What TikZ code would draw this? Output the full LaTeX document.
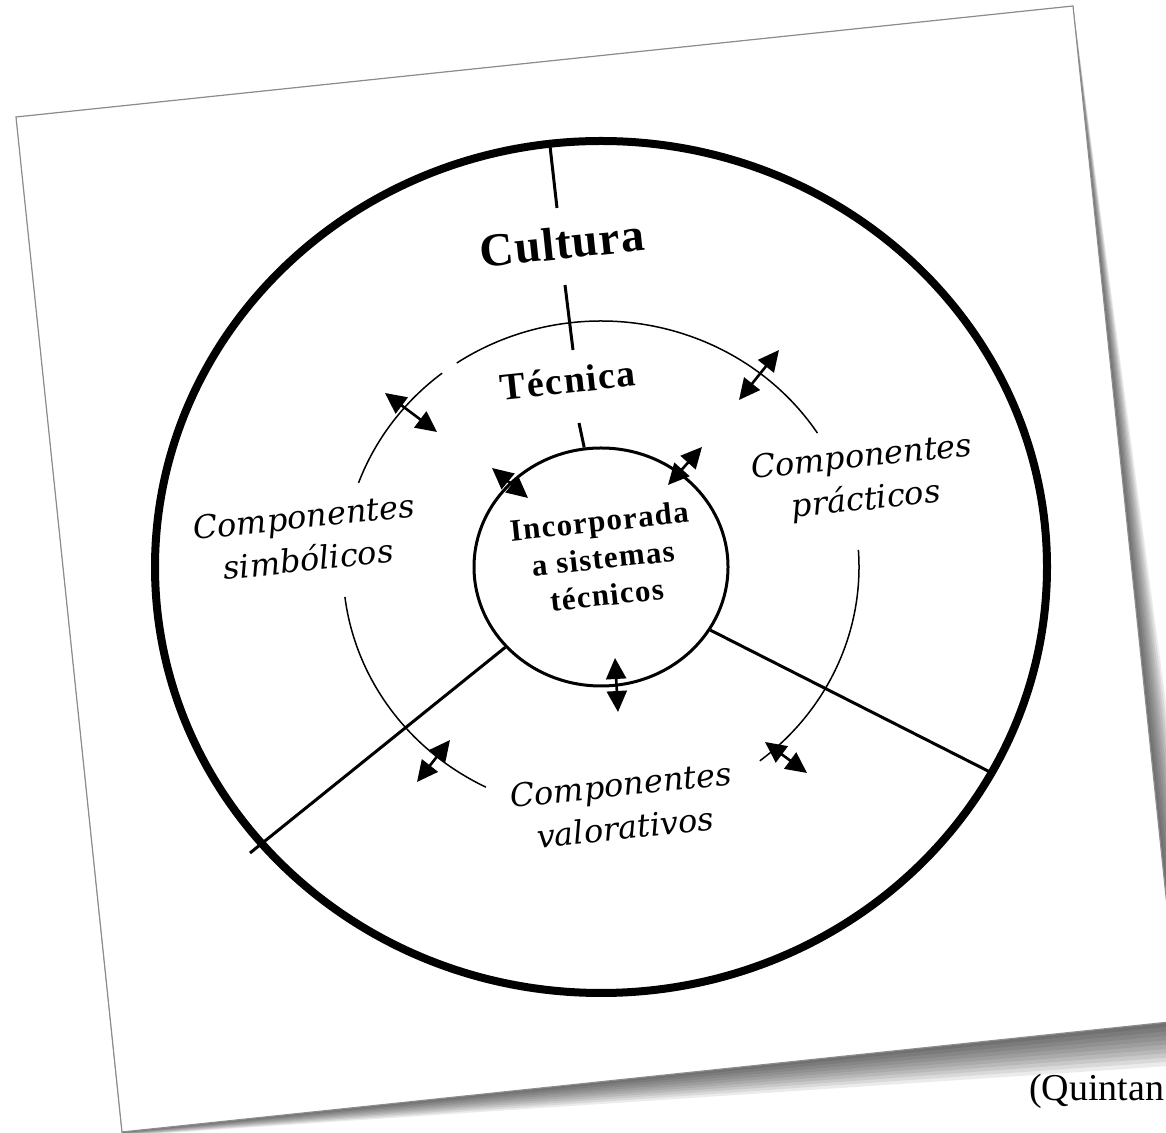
\documentclass[tikz,border=0pt]{standalone}
\usepackage{fontspec}
\setmainfont{Liberation Serif}
\newfontfamily\compfont{DejaVu Serif}
\usetikzlibrary{arrows.meta}
\usetikzlibrary{calc}
\usetikzlibrary{shapes.geometric}

\begin{document}
\begin{tikzpicture}[x=1pt,y=1pt,
  rim/.style={line width=8pt},
  hoop/.style={line width=1.5pt},
  spoke/.style={line width=3pt},
  dbl/.style={line width=2.6pt,{Triangle[length=21pt,width=20pt]}-{Triangle[length=21pt,width=20pt]}},
  comp/.style={rotate=6,align=center,font=\compfont\itshape\fontsize{32}{43}\selectfont}]
\useasboundingbox (0,0) rectangle (1166,1132);
\clip (0,0) rectangle (1166,1132);

% the sheet and its shadow
\coordinate (tl) at (16,1015);
\coordinate (tr) at (1073,1126);
\coordinate (br) at (1179,111);
\coordinate (bl) at (122,0);
\foreach \i in {1,...,10}
  \fill [black,opacity=0.08] (tl) -- (tr) -- ($(br)+(3.5*\i,-4.2*\i)$) -- ($(bl)+(0,-0.4*\i)$) -- cycle;
\filldraw [fill=white,draw=black!45,line width=1.2pt] (tl) -- (tr) -- (br) -- (bl) -- cycle;

% circles
\coordinate (ctr) at (601,565);
\draw [rim] (ctr) ellipse [x radius=446, y radius=426];
\node (core) at (ctr) [ellipse,draw,line width=3pt,minimum width=254pt,minimum height=238pt,inner sep=0pt] {};
\foreach \s/\e in {128/160,187/243.5,308/364,33/124}
  \draw [hoop] ($(ctr)+(\s:258 and 246)$) arc [start angle=\s, end angle=\e, x radius=258, y radius=246];

% labels
\node (cultura) at (562,889) [rotate=6,font=\bfseries\fontsize{47}{50}\selectfont\addfontfeatures{LetterSpace=2}] {Cultura};
\node (tecnica) at (568,752) [rotate=6,font=\bfseries\fontsize{38}{40}\selectfont\addfontfeatures{LetterSpace=4}] {Técnica};
\node (incl) at (603,574) [rotate=6,align=center,font=\bfseries\fontsize{31}{37}\selectfont\addfontfeatures{LetterSpace=4}] {Incorporada\\a sistemas\\técnicos};
\node (simb) at (306,594) [comp] {Componentes\\simbólicos};
\node (prac) at (864,652) [comp] {Componentes\\prácticos};
\node (valor) at (623,326) [comp] {Componentes\\valorativos};
\node (src) at (1029,32) [anchor=base west,inner sep=0pt,font=\fontsize{38}{40}\selectfont] {(Quintan};

% radial strokes
\coordinate (s1) at ($(ctr)+(96.6:446 and 426)$);
\coordinate (s2) at (557,924);
\coordinate (s3) at (565,847);
\coordinate (s4) at (573,782);
\coordinate (s5) at (579,709);
\draw [spoke] (s1) -- (s2);
\draw [spoke] (s3) -- (s4);
\draw [spoke] (s5) -- (core.98);

\coordinate (rimL) at (250,279);
\coordinate (rimR) at (990,360);
\draw [spoke] (core.220) -- (rimL);
\draw [spoke] (core.-30) -- (rimR);

% two-way arrows
\coordinate (a1) at (385,739); \coordinate (b1) at (437,700);
\coordinate (a2) at (779,782); \coordinate (b2) at (739,732);
\coordinate (a3) at (492,664); \coordinate (b3) at (528,634);
\coordinate (a4) at (702,685); \coordinate (b4) at (668,647);
\coordinate (a5) at (615,474); \coordinate (b5) at (618,420);
\coordinate (a6) at (450,392); \coordinate (b6) at (417,350);
\coordinate (a7) at (765,390); \coordinate (b7) at (807,359);
\foreach \n in {1,...,7}
  \draw [dbl] (a\n) -- (b\n);
\end{tikzpicture}
\end{document}
